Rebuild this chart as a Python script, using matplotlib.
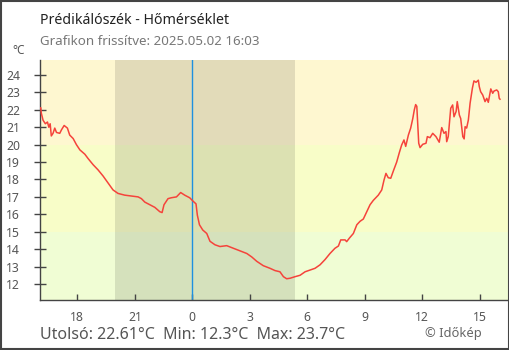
import numpy as np
import matplotlib
matplotlib.use('Agg')
import matplotlib.pyplot as plt
from matplotlib.patches import Rectangle

plt.rcParams['font.family'] = ['Noto Sans', 'DejaVu Sans']

# hours relative to midnight (negative = previous day) and temperature in °C
hours = [-7.95, -7.91, -7.88, -7.79, -7.67, -7.56, -7.49, -7.42, -7.36, -7.27,
         -7.18, -7.09, -6.92, -6.83, -6.69, -6.52, -6.40, -6.22, -6.05, -5.87,
         -5.61, -5.44, -5.18, -4.92, -4.66, -4.40, -4.14, -3.88, -3.53, -3.18,
         -2.83, -2.66, -2.48, -2.22, -1.96, -1.70, -1.58, -1.48, -1.27, -1.10,
         -0.83, -0.61, -0.40, -0.14, 0.04, 0.19, 0.26, 0.37, 0.54, 0.75,
         0.92, 1.18, 1.44, 1.79, 2.14, 2.49, 2.84, 3.10, 3.36, 3.70,
         4.05, 4.31, 4.57, 4.75, 4.92, 5.10, 5.36, 5.62, 5.88, 6.14,
         6.40, 6.66, 6.92, 7.18, 7.44, 7.62, 7.74, 7.97, 8.05, 8.19,
         8.40, 8.58, 8.75, 8.92, 9.10, 9.27, 9.44, 9.70, 9.88, 10.00,
         10.10, 10.22, 10.35, 10.49, 10.66, 10.80, 10.92, 11.04, 11.13, 11.27,
         11.39, 11.50, 11.58, 11.65, 11.71, 11.76, 11.81, 11.88, 12.02, 12.19,
         12.26, 12.40, 12.54, 12.71, 12.88, 13.01, 13.13, 13.23, 13.27, 13.35,
         13.48, 13.58, 13.65, 13.76, 13.82, 13.93, 14.00, 14.11, 14.18, 14.23,
         14.31, 14.40, 14.49, 14.61, 14.69, 14.80, 14.92, 14.97, 15.04, 15.15,
         15.27, 15.36, 15.44, 15.57, 15.67, 15.74, 15.88, 15.96, 16.01, 16.05]
temps = [22.10, 22.12, 21.80, 21.40, 21.20, 21.30, 21.00, 21.20, 20.50, 20.65,
         20.95, 20.70, 20.65, 20.85, 21.10, 20.95, 20.55, 20.35, 20.00, 19.70,
         19.45, 19.20, 18.85, 18.55, 18.20, 17.80, 17.40, 17.20, 17.10, 17.05,
         17.00, 16.90, 16.70, 16.55, 16.40, 16.15, 16.10, 16.55, 16.90, 16.95,
         17.00, 17.25, 17.10, 16.95, 16.75, 16.60, 15.95, 15.40, 15.10, 14.90,
         14.45, 14.25, 14.15, 14.20, 14.05, 13.90, 13.75, 13.55, 13.30, 13.05,
         12.90, 12.77, 12.70, 12.42, 12.30, 12.33, 12.42, 12.50, 12.70, 12.80,
         12.90, 13.10, 13.40, 13.75, 14.05, 14.18, 14.53, 14.53, 14.43, 14.63,
         14.90, 15.40, 15.60, 15.73, 16.15, 16.55, 16.80, 17.10, 17.40, 17.97,
         18.35, 18.10, 18.07, 18.50, 19.00, 19.55, 19.98, 20.27, 19.90, 20.55,
         20.95, 21.50, 22.00, 22.30, 22.20, 21.13, 20.08, 19.83, 20.02, 20.08,
         20.46, 20.40, 20.65, 20.46, 20.14, 20.98, 20.65, 20.75, 20.17, 20.46,
         22.09, 22.28, 21.60, 21.90, 22.47, 21.70, 21.50, 20.46, 20.33, 21.03,
         20.95, 21.42, 22.38, 23.24, 23.66, 23.58, 23.70, 23.33, 23.04, 22.85,
         22.47, 22.66, 22.43, 23.20, 22.95, 23.08, 23.14, 23.04, 22.66, 22.61]

tick_pos = [-6, -3, 0, 3, 6, 9, 12, 15]
tick_labels = ['18', '21', '0', '3', '6', '9', '12', '15']
y_ticks = list(range(12, 25))

sunset, sunrise = -4.03, 5.36
last_t, min_t, max_t = 22.61, 12.3, 23.7

fig = plt.figure(figsize=(5.1, 3.5), dpi=100)
ax = fig.add_axes([40/510, 50/350, 469/510, 240/350])

ylo, yhi = 11.08, 24.86
ax.set_xlim(-7.95, 16.52)
ax.set_ylim(ylo, yhi)

# temperature bands
ax.axhspan(20, yhi, color='#fef7d0', lw=0, zorder=0)
ax.axhspan(15, 20, color='#f8fdc8', lw=0, zorder=0)
ax.axhspan(ylo, 15, color='#f0fdd4', lw=0, zorder=0)
# night
ax.axvspan(sunset, sunrise, color='black', alpha=0.11, lw=0, zorder=1)
ax.axvline(0, color='#1e90e0', lw=1.0, zorder=2)

ax.plot(hours, temps, color='#f5433b', lw=1.1, zorder=3)

ax.set_xticks(tick_pos)
ax.set_xticklabels(tick_labels)
ax.set_yticks(y_ticks)
for s in ['top', 'right']:
    ax.spines[s].set_visible(False)
for s in ['left', 'bottom']:
    ax.spines[s].set_color('#444444')
    ax.spines[s].set_linewidth(1.0)
ax.tick_params(axis='y', direction='inout', length=8.6, width=1.0, color='#444444',
               labelcolor='#555555', labelsize=8.8, pad=10)
ax.tick_params(axis='x', direction='in', length=4.3, width=1.0, color='#444444',
               labelcolor='#555555', labelsize=8.8, pad=8)

fig.text(40/510, 1 - 24/350, 'Prédikálószék - Hőmérséklet', fontsize=10.2,
         color='#222222', ha='left', va='baseline')
fig.text(40/510, 1 - 45/350, 'Grafikon frissítve: 2025.05.02 16:03', fontsize=9.6,
         color='#777777', ha='left', va='baseline')
fig.text(12/510, 1 - 54/350, '°C', fontsize=8.5, color='#555555', ha='left', va='baseline')
fig.text(40/510, 1 - 339/350,
         f'Utolsó: {last_t}°C  Min: {min_t}°C  Max: {max_t}°C',
         fontsize=11.5, color='#555555', ha='left', va='baseline')
fig.text(425/510, 1 - 337/350, '© Időkép', fontsize=9.3, color='#666666',
         ha='left', va='baseline')

fig.patches.append(Rectangle((0.001, 0.002), 0.997, 0.996, transform=fig.transFigure,
                             fill=False, edgecolor='#444444', lw=1.5))

fig.savefig('out.png', dpi=100)
